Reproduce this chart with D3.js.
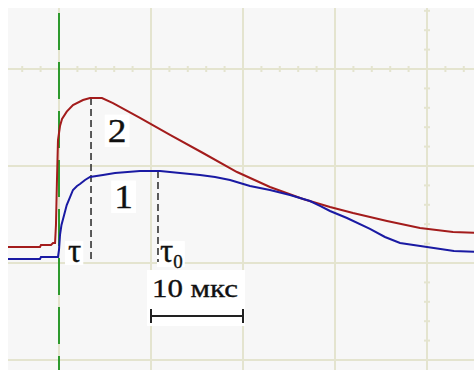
<!DOCTYPE html>
<html>
<head>
<meta charset="utf-8">
<script src="https://cdn.jsdelivr.net/npm/d3@7"></script>
<style>
  body { margin: 0; background: #fff; }
  svg { display: block; }
  text { font-family: 'Liberation Serif', 'DejaVu Serif', serif; fill: #111; stroke: #111; stroke-width: 0.35; }
</style>
</head>
<body>
<svg width="474" height="370"></svg>
<script>
// time in microseconds (trigger at 0), amplitude in screen divisions
var curve1T = [-6, -2.07, -1.96, -0.11, 0, 0.11, 0.27, 0.47, 0.84, 1.2, 1.52, 1.96, 2.28, 2.83, 3.37, 4.78, 6.09, 8.8,
  10.98, 13.15, 15.33, 16.96, 18.59, 19.67, 20.76, 22.93, 25.11, 27.28, 28.37, 29.46, 31.3, 33.8, 35.43, 37.07, 40, 42.93, 46];
var curve1V = [0.041, 0.041, 0.062, 0.062, 0.134, 0.289, 0.392, 0.464, 0.598, 0.68, 0.753, 0.794, 0.814, 0.856, 0.887, 0.907, 0.928, 0.948,
  0.948, 0.928, 0.907, 0.887, 0.856, 0.825, 0.794, 0.753, 0.701, 0.639, 0.588, 0.536, 0.464, 0.351, 0.268, 0.206, 0.165, 0.124, 0.113];

var curve2T = [-6, -2.07, -1.96, -0.87, -0.65, -0.43, -0.33, -0.22, -0.11, 0.11, 0.33, 0.84, 1.52, 2.61, 3.37, 4.67, 5.87, 8.8,
  12.07, 15.65, 19.35, 22.93, 26.52, 29.46, 31.96, 35.65, 39.24, 42.83, 46];
var curve2V = [0.165, 0.165, 0.186, 0.186, 0.206, 0.206, 0.392, 0.856, 1.268, 1.412, 1.485, 1.56, 1.629, 1.68, 1.701, 1.701, 1.649, 1.495,
  1.32, 1.134, 0.938, 0.784, 0.66, 0.577, 0.515, 0.433, 0.361, 0.32, 0.309];

var curveNames = ['1', '2'];
var markerNames = ['τ', 'τ'];
var markerSubs = ['', '0'];
var markerT = [3.48, 10.76];
var markerTop = [1.701, 0.948];
var scaleBarT = [10, 20];
var scaleBarText = '10 мкс';
var triggerT = 0;

var svg = d3.select('svg'),
  width = +svg.attr('width'),
  height = +svg.attr('height');

var x = d3.scaleLinear().domain([0, 40]).range([59, 427]);
var y = d3.scaleLinear().domain([-1, 2]).range([360, 69]);

var gridColor = '#e4e4cf';

svg.append('rect').attr('x', 8).attr('y', 8).attr('width', width - 8).attr('height', height - 8).attr('fill', '#f7f7f7');

svg.append('clipPath').attr('id', 'panel')
  .append('rect').attr('x', 8).attr('y', 8).attr('width', width - 8).attr('height', height - 8);

var grid = svg.append('g').attr('clip-path', 'url(#panel)');

grid.selectAll('.vgrid').data(d3.range(-10, 51, 10)).enter().append('line')
  .attr('x1', d => x(d)).attr('x2', d => x(d))
  .attr('y1', 8).attr('y2', height)
  .attr('stroke', gridColor).attr('stroke-width', 2);

grid.selectAll('.hgrid').data(d3.range(-1, 3, 1)).enter().append('line')
  .attr('x1', 8).attr('x2', width)
  .attr('y1', d => y(d)).attr('y2', d => y(d))
  .attr('stroke', gridColor).attr('stroke-width', 2);

// small ticks on the two centre axes
grid.selectAll('.xtick').data(d3.range(-6, 47, 2).filter(d => d % 10 != 0)).enter().append('line')
  .attr('x1', d => x(d)).attr('x2', d => x(d))
  .attr('y1', y(2) - 3).attr('y2', y(2) + 3)
  .attr('stroke', gridColor).attr('stroke-width', 2);

grid.selectAll('.ytick').data(d3.range(-1, 2.7, 0.2).filter(d => Math.abs(d - Math.round(d)) > 0.01)).enter().append('line')
  .attr('x1', x(40) - 3).attr('x2', x(40) + 3)
  .attr('y1', d => y(d)).attr('y2', d => y(d))
  .attr('stroke', gridColor).attr('stroke-width', 2);

// label with white box behind it
function boxedText(g, txt, tx, ty, size, pad) {
  var t = g.append('text').attr('x', tx).attr('y', ty)
    .attr('font-size', size).text(txt)
    .attr('transform', 'translate(' + tx + ',0) scale(1.1,1) translate(' + -tx + ',0)');
  var b = t.node().getBBox();
  g.insert('rect', 'text')
    .attr('x', b.x - pad).attr('y', ty - size * 0.72 - pad)
    .attr('width', b.width * 1.1 + 2 * pad).attr('height', size * 0.72 + 2 * pad + 2)
    .attr('fill', '#fff');
  return t;
}

var labels = svg.append('g');

// scale bar
var sb = labels.append('g');
sb.append('rect').attr('x', x(scaleBarT[0]) - 4).attr('y', 270).attr('width', x(scaleBarT[1]) - x(scaleBarT[0]) + 6).attr('height', 56)
  .attr('fill', '#fff');
sb.append('text').attr('x', x(scaleBarT[0]) + 1).attr('y', 297)
  .attr('font-size', 26)
  .attr('textLength', 86).attr('lengthAdjust', 'spacingAndGlyphs')
  .text(scaleBarText);
var barY = 316;
sb.append('line').attr('x1', x(scaleBarT[0])).attr('x2', x(scaleBarT[1])).attr('y1', barY).attr('y2', barY)
  .attr('stroke', '#222').attr('stroke-width', 2);
sb.selectAll('.end').data(scaleBarT).enter().append('line')
  .attr('x1', d => x(d)).attr('x2', d => x(d)).attr('y1', barY - 7).attr('y2', barY + 7)
  .attr('stroke', '#222').attr('stroke-width', 2);

// curve numbers
boxedText(labels.append('g'), curveNames[1], x(5.3), y(1.247), 34, 3);
boxedText(labels.append('g'), curveNames[0], x(6.0), y(0.567), 34, 3);

// tau labels
markerNames.forEach(function (name, i) {
  var g = labels.append('g');
  var tx = i == 0 ? x(0.98) : x(10.98);
  var ty = y(0.01);
  var t = g.append('text').attr('x', tx).attr('y', ty)
    .attr('font-size', 33).text(name);
  if (markerSubs[i]) {
    t.append('tspan').attr('font-size', 19).attr('dy', 6).text(markerSubs[i]);
  }
  var b = t.node().getBBox();
  g.insert('rect', 'text')
    .attr('x', b.x - 3).attr('y', ty - 21)
    .attr('width', b.width + 5).attr('height', 24 + (markerSubs[i] ? 2 : 0))
    .attr('fill', '#fff');
});

// marker dashed lines
svg.append('g').selectAll('line').data(markerT).enter().append('line')
  .attr('x1', d => x(d)).attr('x2', d => x(d))
  .attr('y1', (d, i) => y(markerTop[i])).attr('y2', y(0.01))
  .attr('stroke', '#333').attr('stroke-width', 1.6).attr('stroke-dasharray', '7,4');

// trigger line
svg.append('line').attr('x1', x(triggerT)).attr('x2', x(triggerT)).attr('y1', 13).attr('y2', height)
  .attr('stroke', '#2e9a2e').attr('stroke-width', 2).attr('stroke-dasharray', '37,12');

// signals
var line = d3.line().x(d => x(d[0])).y(d => y(d[1]));
var curves = svg.append('g').attr('clip-path', 'url(#panel)');
curves.append('path').datum(d3.zip(curve2T, curve2V)).attr('d', line)
  .attr('fill', 'none').attr('stroke', '#a31c1c').attr('stroke-width', 2);
curves.append('path').datum(d3.zip(curve1T, curve1V)).attr('d', line)
  .attr('fill', 'none').attr('stroke', '#1a1aa3').attr('stroke-width', 2);
</script>
</body>
</html>
